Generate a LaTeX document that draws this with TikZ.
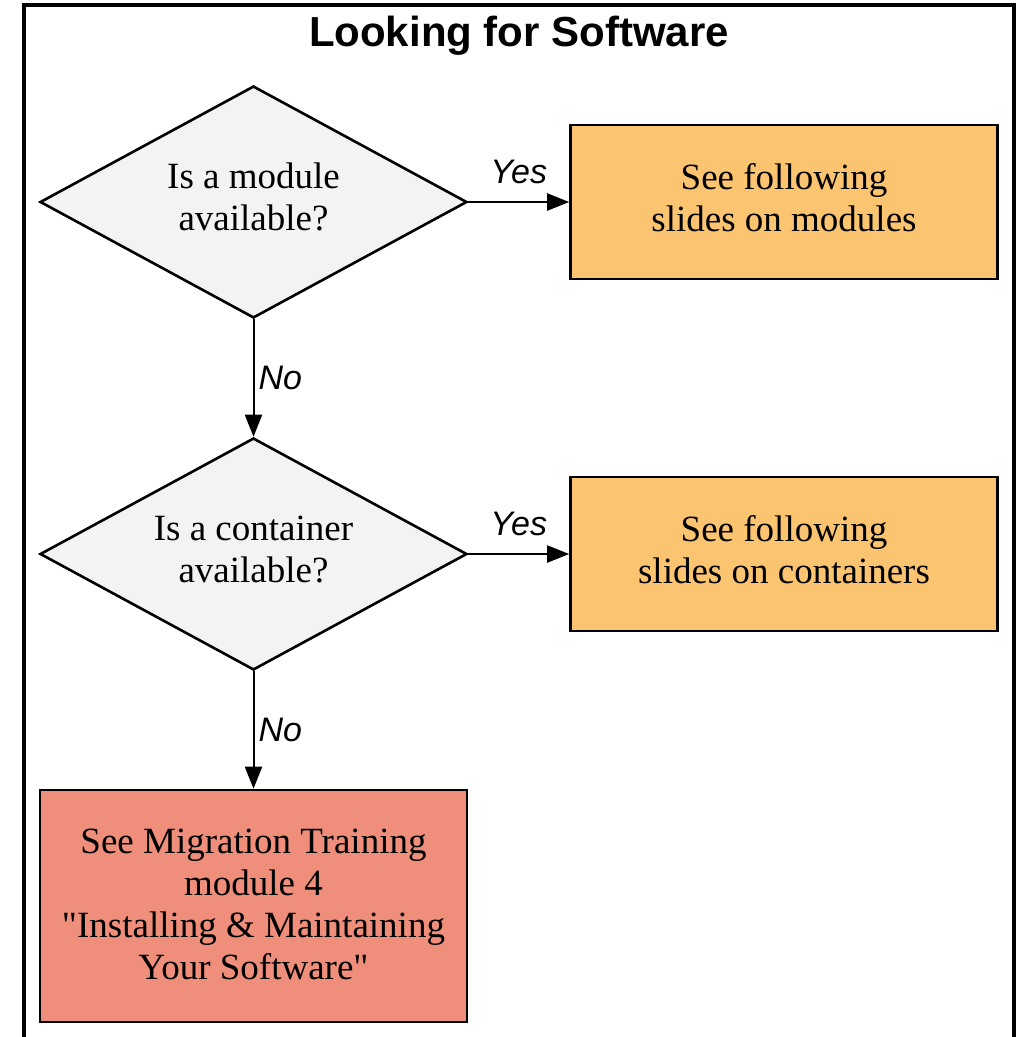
\documentclass[tikz,border=0pt]{standalone}
\usepackage{fontspec}
\setmainfont{Liberation Serif}[Ligatures=TeXOff]
\newfontfamily\labelfont{Liberation Sans}
\usetikzlibrary{shapes.geometric,arrows.meta}
\definecolor{qfill}{HTML}{F3F3F3}
\definecolor{okfill}{HTML}{FBC471}
\definecolor{altfill}{HTML}{EF8F7B}
\tikzset{
  every node/.style={inner sep=0pt},
  question/.style={diamond, draw=black, line width=2.6pt, fill=qfill,
    minimum width=427pt, minimum height=232pt, shape aspect=1.84,
    align=center, text depth=10pt, font=\fontsize{37}{42}\selectfont},
  outcome/.style={rectangle, draw=black, line width=2.6pt, fill=okfill,
    minimum width=427pt, minimum height=154pt,
    align=center, text depth=10pt, font=\fontsize{37}{42}\selectfont},
  fallback/.style={outcome, fill=altfill, minimum height=232pt, text depth=3pt},
  flow/.style={line width=2pt, -{Triangle[length=22pt,width=17pt]}},
  answer/.style={font=\labelfont\itshape\fontsize{34}{40}\selectfont},
  frametitle/.style={font=\labelfont\bfseries\fontsize{42}{48}\selectfont}
}
\begin{document}
\begin{tikzpicture}[x=1pt,y=-1pt]
  \useasboundingbox (0,0) rectangle (1018,1037);
  \clip (0,0) rectangle (1018,1037);
  % surrounding frame, open at the bottom edge
  \draw[line width=4pt] (24,1060) -- (24,5) -- (1014,5) -- (1014,1060);
  \node[frametitle, anchor=base] (title) at (519,46) {Looking for Software};

  \node[question] (module) at (253.5,202) {Is a module\\available?};
  \node[outcome] (modslides) at (784,202) {See following\\slides on modules};
  \node[question] (container) at (253.5,554) {Is a container\\available?};
  \node[outcome] (contslides) at (784,554) {See following\\slides on containers};
  \node[fallback] (training) at (253.5,906)
    {See Migration Training\\module 4\\"Installing \& Maintaining\\Your Software"};

  \draw[flow] (module.east) -- node[answer, midway, yshift=30pt] (yes1) {Yes} (modslides.west);
  \draw[flow] (module.south) -- node[answer, midway, anchor=west, xshift=4pt] (no1) {No} (container.north);
  \draw[flow] (container.east) -- node[answer, midway, yshift=30pt] (yes2) {Yes} (contslides.west);
  \draw[flow] (container.south) -- node[answer, midway, anchor=west, xshift=4pt] (no2) {No} (training.north);
\end{tikzpicture}
\end{document}
